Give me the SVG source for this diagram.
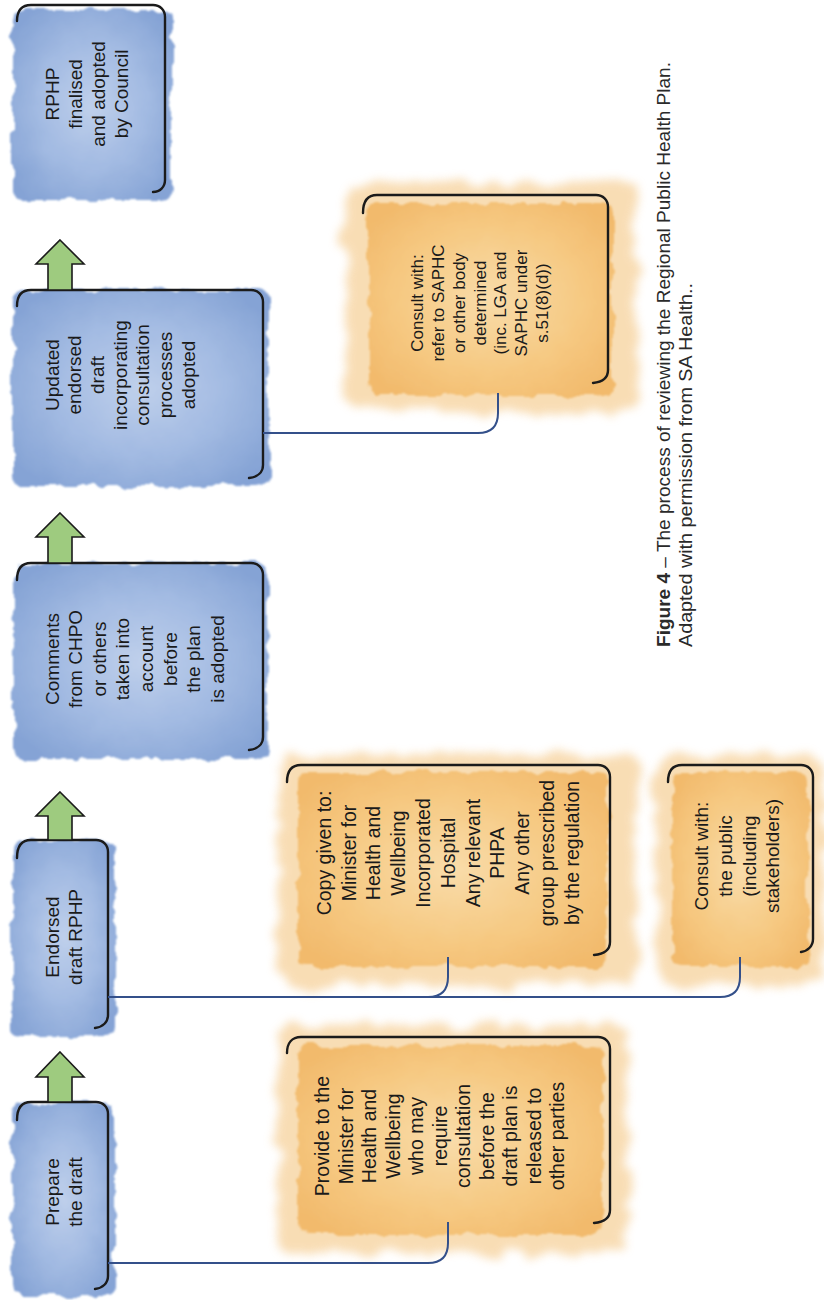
<svg xmlns="http://www.w3.org/2000/svg" width="824" height="1300" viewBox="0 0 824 1300">
<style>
.txt{font-family:"Liberation Sans",Arial,sans-serif;fill:#1a1a1a;text-anchor:middle}
.b19{font-size:19px}
.o19{font-size:19.5px}
.o17{font-size:17px}
.brk{fill:none;stroke:#1b1b1b;stroke-width:2.4;stroke-linecap:round}
.con{fill:none;stroke:#34508a;stroke-width:2}
.arr{fill:#9ecb7f;stroke:#1b1b1b;stroke-width:1.6;stroke-linejoin:miter}
.bfill{fill:url(#blueG);filter:url(#rough)}
.ofill{fill:url(#orG);filter:url(#rough)}
.halo{fill:#f6cf95;opacity:.7;filter:url(#halo)}
.cap{font-family:"Liberation Sans",Arial,sans-serif;fill:#2a2a2a;font-size:18px}
</style>
<defs>
<radialGradient id="blueG" cx="50%" cy="50%" r="62%">
<stop offset="0" stop-color="#bfd0eb"/>
<stop offset="0.55" stop-color="#a2bae2"/>
<stop offset="1" stop-color="#85a3d5"/>
</radialGradient>
<radialGradient id="orG" cx="50%" cy="50%" r="62%">
<stop offset="0" stop-color="#f9dcaa"/>
<stop offset="0.6" stop-color="#f6c982"/>
<stop offset="1" stop-color="#f2ba6c"/>
</radialGradient>
<filter id="rough" x="-8%" y="-8%" width="116%" height="116%">
<feTurbulence type="fractalNoise" baseFrequency="0.05" numOctaves="3" seed="4" result="n"/>
<feDisplacementMap in="SourceGraphic" in2="n" scale="12" xChannelSelector="R" yChannelSelector="G" result="d"/>
<feGaussianBlur in="d" stdDeviation="1.3"/>
</filter>
<filter id="halo" x="-15%" y="-15%" width="130%" height="130%">
<feTurbulence type="fractalNoise" baseFrequency="0.04" numOctaves="3" seed="9" result="n"/>
<feDisplacementMap in="SourceGraphic" in2="n" scale="22" xChannelSelector="R" yChannelSelector="G" result="d"/>
<feGaussianBlur in="d" stdDeviation="5"/>
</filter>
</defs>

<g id="node-rphp-finalised">
<rect class="bfill" x="12" y="10" width="160" height="190" rx="10"/>
<path class="brk" d="M17,21 C17,10 22,5 31,5 H153 C160,5 165,10 165,17 V180 C165,187 160,192 153,192"/>
<text class="txt b19" transform="translate(86.5,94) rotate(-90)">
<tspan x="0" y="-27.8">RPHP</tspan><tspan x="0" y="-4.8">finalised</tspan><tspan x="0" y="18.2">and adopted</tspan><tspan x="0" y="41.2">by Council</tspan>
</text>
</g>

<g id="node-updated-draft">
<rect class="bfill" x="13" y="290" width="255" height="196" rx="10"/>
<path class="brk" d="M17,306 C17,295 22,290 31,290 H251 C258,290 263,295 263,302 V465 C263,472 258,477 249,478"/>
<text class="txt b19" transform="translate(120,375) rotate(-90)">
<tspan x="0" y="-61.4">Updated</tspan><tspan x="0" y="-38.7">endorsed</tspan><tspan x="0" y="-16">draft</tspan><tspan x="0" y="6.7">incorporating</tspan><tspan x="0" y="29.4">consultation</tspan><tspan x="0" y="52.1">processes</tspan><tspan x="0" y="74.8">adopted</tspan>
</text>
</g>

<g id="node-comments">
<rect class="bfill" x="14" y="563" width="254" height="196" rx="10"/>
<path class="brk" d="M17,580 C17,569 22,563 31,563 H251 C258,563 263,568 263,575 V737 C263,744 258,749 249,750"/>
<text class="txt b19" transform="translate(134.5,659) rotate(-90)">
<tspan x="0" y="-75.9">Comments</tspan><tspan x="0" y="-52.3">from CHPO</tspan><tspan x="0" y="-28.7">or others</tspan><tspan x="0" y="-5.1">taken into</tspan><tspan x="0" y="18.5">account</tspan><tspan x="0" y="42.1">before</tspan><tspan x="0" y="65.7">the plan</tspan><tspan x="0" y="89.3">is adopted</tspan>
</text>
</g>

<g id="node-endorsed-draft">
<rect class="bfill" x="12" y="840" width="103" height="196" rx="10"/>
<path class="brk" d="M17,858 C17,846 22,840 31,840 H96 C103,840 108,845 108,852 V1015 C108,1022 103,1027 95,1028"/>
<text class="txt b19" transform="translate(63.5,937) rotate(-90)">
<tspan x="0" y="-4.8">Endorsed</tspan><tspan x="0" y="18.2">draft RPHP</tspan>
</text>
</g>

<g id="node-prepare-draft">
<rect class="bfill" x="12" y="1102" width="103" height="194" rx="10"/>
<path class="brk" d="M17,1120 C17,1108 22,1102 31,1102 H96 C103,1102 108,1107 108,1114 V1276 C108,1283 103,1288 95,1289"/>
<text class="txt b19" transform="translate(63.5,1192) rotate(-90)">
<tspan x="0" y="-4.8">Prepare</tspan><tspan x="0" y="18.2">the draft</tspan>
</text>
</g>

<g id="node-provide-minister">
<rect class="halo" x="278" y="1025" width="350" height="228" rx="14"/>
<rect class="ofill" x="298" y="1045" width="305" height="190" rx="10"/>
<path class="brk" d="M287,1053 C287,1043 292,1037 301,1037 H598 C605,1037 610,1042 610,1049 V1210 C610,1217 605,1222 594,1223"/>
<text class="txt o19" transform="translate(440.5,1136) rotate(-90)">
<tspan x="0" y="-111.2">Provide to the</tspan><tspan x="0" y="-87.7">Minister for</tspan><tspan x="0" y="-64.2">Health and</tspan><tspan x="0" y="-40.7">Wellbeing</tspan><tspan x="0" y="-17.2">who may</tspan><tspan x="0" y="6.3">require</tspan><tspan x="0" y="29.8">consultation</tspan><tspan x="0" y="53.3">before the</tspan><tspan x="0" y="76.8">draft plan is</tspan><tspan x="0" y="100.3">released to</tspan><tspan x="0" y="123.8">other parties</tspan>
</text>
</g>

<g id="node-copy-given">
<rect class="halo" x="278" y="755" width="360" height="230" rx="14"/>
<rect class="ofill" x="298" y="772" width="310" height="195" rx="10"/>
<path class="brk" d="M287,782 C287,771 292,765 301,765 H598 C605,765 610,770 610,777 V942 C610,949 605,954 594,955"/>
<text class="txt o19" transform="translate(448,853) rotate(-90)">
<tspan x="0" y="-117.2">Copy given to:</tspan><tspan x="0" y="-92.4">Minister for</tspan><tspan x="0" y="-67.6">Health and</tspan><tspan x="0" y="-42.8">Wellbeing</tspan><tspan x="0" y="-18">Incorporated</tspan><tspan x="0" y="6.8">Hospital</tspan><tspan x="0" y="31.6">Any relevant</tspan><tspan x="0" y="56.4">PHPA</tspan><tspan x="0" y="81.2">Any other</tspan><tspan x="0" y="106">group prescribed</tspan><tspan x="0" y="130.8">by the regulation</tspan>
</text>
</g>

<g id="node-consult-public">
<rect class="halo" x="655" y="755" width="169" height="230" rx="14"/>
<rect class="ofill" x="672" y="772" width="136" height="195" rx="10"/>
<path class="brk" d="M668,782 C668,771 673,765 682,765 H801 C808,765 813,770 813,777 V939 C813,946 808,951 801,952"/>
<text class="txt b19" transform="translate(737,856) rotate(-90)">
<tspan x="0" y="-28.85">Consult with:</tspan><tspan x="0" y="-5.15">the public</tspan><tspan x="0" y="18.55">(including</tspan><tspan x="0" y="42.25">stakeholders)</tspan>
</text>
</g>

<g id="node-consult-saphc">
<rect class="halo" x="345" y="183" width="292" height="228" rx="14"/>
<rect class="ofill" x="368" y="203" width="245" height="192" rx="10"/>
<path class="brk" d="M363,213 C363,201 368,195 377,195 H596 C603,195 608,200 608,207 V370 C608,377 603,382 593,383"/>
<text class="txt o17" transform="translate(479.5,303) rotate(-90)">
<tspan x="0" y="-56.1">Consult with:</tspan><tspan x="0" y="-35.4">refer to SAPHC</tspan><tspan x="0" y="-14.7">or other body</tspan><tspan x="0" y="6">determined</tspan><tspan x="0" y="26.7">(inc. LGA and</tspan><tspan x="0" y="47.4">SAPHC under</tspan><tspan x="0" y="68.1">s.51(8)(d))</tspan>
</text>
</g>

<g id="connectors">
<path class="con" d="M108,1263 H428 Q448,1263 448,1243 V1222"/>
<path class="con" d="M108,997 H720 Q740,997 740,977 V957"/>
<path class="con" d="M428,997 Q448,997 448,977 V957"/>
<path class="con" d="M263,433 H478 Q498,433 498,413 V393"/>
<polygon class="arr" points="60,240 84,264 72,264 72,290 48,290 48,264 36,264"/>
<polygon class="arr" points="60,513 84,537 72,537 72,563 48,563 48,537 36,537"/>
<polygon class="arr" points="60,792 84,816 72,816 72,840 48,840 48,816 36,816"/>
<polygon class="arr" points="60,1052 84,1077 72,1077 72,1102 48,1102 48,1077 36,1077"/>
</g>

<g id="caption">
<text class="cap" transform="translate(670,647) rotate(-90)" textLength="585" lengthAdjust="spacingAndGlyphs"><tspan font-weight="bold">Figure 4</tspan> – The process of reviewing the Regional Public Health Plan.</text>
<text class="cap" transform="translate(692,647) rotate(-90)" textLength="364" lengthAdjust="spacingAndGlyphs">Adapted with permission from SA Health..</text>
</g>
</svg>
